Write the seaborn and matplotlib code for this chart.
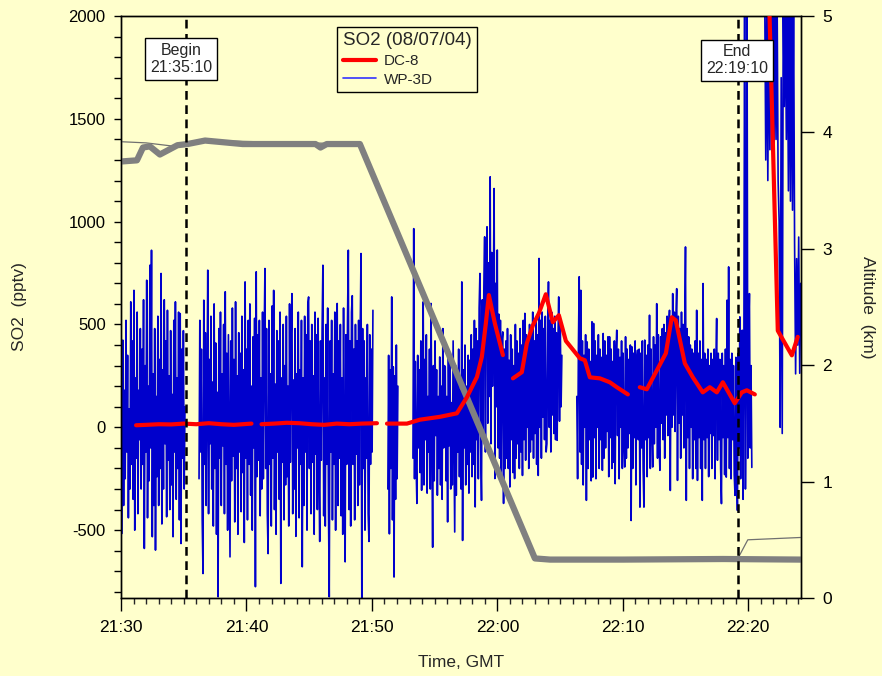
import numpy as np
import pandas as pd
import matplotlib
matplotlib.use("Agg")
import matplotlib.pyplot as plt
import seaborn as sns
from matplotlib.ticker import MultipleLocator, FuncFormatter
from matplotlib.lines import Line2D

# --- data (time in minutes after 21:30 GMT) ---

# WP-3D SO2 (pptv), segments with start/end time
wp_a_span = (0.08, 5.10)
wp_a = [-516, 424, -380, 180, -250, 520, -120, 350, -440, 90,
        -300, 610, -180, 420, -350, 666, -500, 240, -150, 560,
        -420, 180, -60, 480, -300, 380, -180, 620, -589, 300,
        -120, 715, -440, 200, -260, 788, -100, 861, -532, 260,
        -380, 480, -597, 150, -240, 540, -380, 330, -200, 748,
        -470, 280, -300, 620, -80, 420, -435, 569, -160, 250,
        -400, 470, -280, 160, -532, 520, -120, 610, -350, 240,
        -200, 560, -450, 553, -565, 380, -150, 470, -300, 100]

wp_b_span = (6.22, 20.08)
wp_b = [-250, 520, -120, 380, -450, -711, 618, -180, 460, -380,
        150, 764, -420, 330, -80, 540, -300, 220, -480, 600,
        -200, 410, -520, 170, -824, 480, -150, 560, -380, 260,
        -90, 500, -420, 659, -180, 360, -500, 450, -120, -630,
        420, -260, 580, -140, 330, -460, 610, -200, 250, -520,
        460, -120, 360, -410, 540, -220, 280, -560, 707, -150,
        380, -450, 520, -180, 600, -330, 200, -500, 440, -100,
        530, -775, 756, -240, 450, -160, 520, -430, 240, -300,
        560, -250, 420, 772, -200, 480, -420, -614, 520, -180,
        260, -480, 590, -150, 666, -400, 210, -520, 470, -120,
        420, -350, 560, -759, 240, -170, 500, -450, 300, -280,
        540, -240, 200, -480, 600, -170, 450, 650, -420, 230,
        -300, 480, -530, 260, -100, 560, -440, 280, -180, 520,
        -678, 240, -380, 540, -120, 450, -500, 600, 634, -200,
        420, -420, 500, -170, 250, -520, 560, -130, 450, -400,
        530, -200, -555, 420, -160, 480, 788, -430, 240, -480,
        500, -180, 580, -380, -824, 420, -120, 520, -450, 260,
        -180, 560, -500, 300, 602, -380, 420, -150, 500, -430,
        240, -520, 580, -220, -654, 450, -180, 520, 861, -400,
        420, -480, 560, 640, -180, 380, -450, 500, -130, 420,
        -380, 520, -280, 460, 845, -832, 480, -200, 420, -500,
        240, -150, 500, -420, -555, 450, -180, 380, -120, 569]

wp_c_span = (21.27, 22.07)
wp_c = [-300, 350, -518, 280, -200, 634, -450, 294, -728, 250,
        -350, 400, -250, 200]

wp_d_span = (23.27, 35.14)
wp_d = [-150, 966, -250, 320, -180, -370, 350, -100, 280, -220,
        420, -306, 120, 610, -280, 330, -60, 450, -320, 150,
        -120, 380, -300, 602, -80, -583, 300, -260, 420, -40,
        280, -330, 150, -200, 342, -280, 200, -350, 480, -100,
        300, 294, -260, 150, -460, 380, -90, 320, -300, 120,
        -280, 420, -60, -509, 300, -330, 250, -120, 380, -240,
        180, -300, 707, -550, 280, -100, 400, -280, 200, -180,
        350, -320, 326, -120, 450, -240, 380, -180, 520, -387,
        480, -60, 420, -250, 580, 748, -100, -355, 620, -30,
        680, 926, -120, 750, 975, 20, 800, 150, 1218, -80,
        850, 200, 600, 1161, -249, 700, 100, 862, -100, 550,
        -150, 520, -250, 420, 464, -370, 380, -200, 420, -150,
        480, -200, 326, -290, 450, -60, 380, -220, 300, -249,
        500, -150, 420, -80, 360, -200, 480, -120, 400, -234,
        520, -60, 554, -160, 450, 0, 420, -200, 500, -120,
        480, -60, 560, -150, 420, -30, 520, -180, 450, -234,
        821, 0, 520, -150, 560, 50, 480, -60, 540, -120,
        -80, 450, 707, 0, 520, -120, 560, 60, 480, -30,
        540, -60, 460, -63, 420, 634, 30, 500, 100, 350]

wp_e_span = (36.33, 50.28)
wp_e = [150, -250, 380, 732, -120, 666, -180, 420, -280, 350,
        0, 450, -355, 415, -200, 380, -60, 320, -260, 513,
        -242, 505, -50, 420, -250, 350, 0, 450, -200, 380,
        -60, 340, -209, 456, -150, 420, -100, 350, -20, 440,
        -240, 440, -50, 380, -200, 320, -170, 420, -274, 360,
        472, -40, 380, -250, 340, 0, 420, -200, 360, -80,
        -193, 440, -150, 380, -100, 330, -30, 400, -453, 391,
        -200, 360, -50, 420, -280, 330, 375, -60, 380, -388,
        360, -100, 420, -200, -388, 424, -60, 350, -240, 400,
        -50, 545, -200, 380, -20, -193, 440, -80, 400, 0,
        601, -150, 450, -80, -209, 440, 20, 480, -60, 500,
        -150, 460, 60, 540, -40, 480, 569, -307, 500, 0,
        650, 60, 560, -20, 520, 674, -258, 540, 20, 480,
        -150, 560, 60, 500, -100, 460, 877, -355, 480, -50,
        440, -200, 400, 0, 380, -250, 360, -60, 420, -200,
        569, -258, 360, -50, 420, -200, 330, -355, 699, -60,
        360, -200, 330, -50, 380, -240, 300, -30, 360, -200,
        330, -40, 380, -250, 300, 529, -160, 360, -60, 330,
        -200, -371, 360, -50, 300, -230, 380, -242, 618, -50,
        780, -200, 330, -250, 360, -60, 300, -230, -331, 340,
        -200, -404, 360, -100, 537, -250, 300, 472, -350, 250,
        2100, -300, 350, 2100, -150, 450, 650, -100, 300, -195]

wp_f_span = (51.31, 54.18)
wp_f = [2100, 1300, 2100, 1200, 2100, 1350, 2100, 1500, 2100, 1250,
        2100, 1400, 2100, 1200, 1000, 0, 1700, -30, 2100, 1560,
        2100, 1400, 2100, 1150, 2100, 1100, 2100, 1056, 2100, 900,
        260, 820, 400, 925, 263, 700]

# DC-8 SO2 (pptv), segments of (time, value)
dc8_t = [
    [1.2, 2.0, 3.0, 4.0, 5.0, 6.0, 7.0, 8.0, 9.0, 10.4],
    [11.2, 12.2, 13.2, 14.2, 15.2, 16.2, 17.2, 18.2, 19.2, 20.4],
    [21.2, 22.79, 23.82, 25.42, 26.77, 27.57, 28.37, 28.76, 29.08, 29.32, 29.80, 30.44],
    [31.24, 31.95, 32.35, 32.83, 33.31, 33.86, 34.42, 34.90, 35.46, 36.57, 36.97,
     37.37, 38.17, 38.96, 39.52, 40.40],
    [41.35, 41.91, 42.71, 43.43, 43.90, 44.22, 44.94, 45.58, 46.37, 46.93, 47.49,
     47.97, 48.92, 49.48, 49.88, 50.52],
    [51.63, 52.35, 53.47, 53.94],
]
dc8_v = [
    [10, 12, 15, 14, 18, 15, 20, 15, 12, 18],
    [15, 18, 22, 20, 15, 12, 18, 15, 18, 20],
    [18, 18, 37, 51, 68, 146, 245, 342, 505, 643, 505, 351],
    [238, 268, 409, 496, 555, 647, 511, 545, 420, 336, 326, 243, 238, 219, 195, 160],
    [195, 185, 277, 360, 535, 520, 311, 243, 170, 195, 170, 219, 117, 170, 180, 160],
    [2150, 470, 350, 440],
]

# altitude (km)
alt_t = [0.0, 1.27, 1.75, 2.3, 3.1, 4.5, 5.3, 6.7, 9.7, 15.5, 15.9, 16.4, 19.04,
         32.99, 34.2, 40.0, 48.0, 54.18]
alt_km = [3.75, 3.76, 3.87, 3.88, 3.81, 3.89, 3.90, 3.93, 3.90, 3.90, 3.87, 3.90, 3.90,
          0.34, 0.33, 0.33, 0.335, 0.33]
alt2_t = [0.0, 2.0, 4.3, 5.3, 6.7, 19.04, 32.99, 49.17, 49.96, 54.18]
alt2_km = [3.92, 3.91, 3.88, 3.90, 3.93, 3.90, 0.34, 0.34, 0.50, 0.52]

begin_t = 5 + 10 / 60
end_t = 49 + 10 / 60

# --- tables for seaborn ---
wp_parts = []
for i, (span, vals) in enumerate([(wp_a_span, wp_a), (wp_b_span, wp_b), (wp_c_span, wp_c),
                                  (wp_d_span, wp_d), (wp_e_span, wp_e), (wp_f_span, wp_f)]):
    wp_parts.append(pd.DataFrame({"t": np.linspace(span[0], span[1], len(vals)),
                                  "so2": vals, "seg": i}))
df_wp = pd.concat(wp_parts, ignore_index=True)

df_dc8 = pd.concat([pd.DataFrame({"t": t, "so2": v, "seg": i})
                    for i, (t, v) in enumerate(zip(dc8_t, dc8_v))], ignore_index=True)

# --- plot ---
bg = "#FFFFCC"
sns.set_style("ticks")
plt.rcParams["font.family"] = ["Liberation Sans", "DejaVu Sans"]
plt.rcParams["axes.unicode_minus"] = False

fig = plt.figure(figsize=(8.82, 6.76), dpi=100, facecolor=bg)
ax = fig.add_axes([121 / 882, 78 / 676, 680 / 882, 582 / 676])
ax.set_facecolor(bg)
ax2 = ax.twinx()   # altitude
ax3 = ax.twinx()   # DC-8 on top of the altitude trace
ax2.patch.set_visible(False)
ax3.patch.set_visible(False)

# WP-3D (bottom layer)
sns.lineplot(data=df_wp, x="t", y="so2", units="seg", estimator=None, sort=False,
             color="#0000CC", lw=1.2, ax=ax)

# altitude on the right axis
sns.lineplot(x=alt2_t, y=alt2_km, ax=ax2, color="#707070", lw=0.9, sort=False)
sns.lineplot(x=alt_t, y=alt_km, ax=ax2, color="#808080", lw=4.5, sort=False)

# DC-8 (top layer, same scale as left axis)
sns.lineplot(data=df_dc8, x="t", y="so2", units="seg", estimator=None, sort=False,
             color="#FF0000", lw=3, ax=ax3)

for tt in (begin_t, end_t):
    ax3.axvline(tt, color="black", lw=1.8, ls=(0, (3.5, 2.2)))

ax.set_xlim(0, 54.2)
ax.set_ylim(-830, 2000)
ax3.set_ylim(-830, 2000)
ax2.set_ylim(0, 5)
ax3.axis("off")

ax.xaxis.set_major_locator(MultipleLocator(10))
ax.xaxis.set_minor_locator(MultipleLocator(1))
ax.xaxis.set_major_formatter(FuncFormatter(
    lambda t, p: f"{21 + (30 + int(round(t))) // 60}:{(30 + int(round(t))) % 60:02d}"))
ax.yaxis.set_major_locator(MultipleLocator(500))
ax.yaxis.set_minor_locator(MultipleLocator(100))
ax2.yaxis.set_major_locator(MultipleLocator(1))

ax.tick_params(axis="x", which="major", length=9.5, width=1, labelsize=12.5, pad=6,
               colors="black")
ax.tick_params(axis="x", which="minor", length=4.5, width=1)
ax.tick_params(axis="y", which="both", length=5, width=1, labelsize=12, pad=6,
               colors="black")
ax2.tick_params(axis="y", which="major", length=9.5, width=1, labelsize=12.5, pad=6,
                colors="black")

for a in (ax, ax2):
    for s in a.spines.values():
        s.set_visible(True)
        s.set_color("black")
        s.set_linewidth(1)

ax.set_xlabel("Time, GMT", fontsize=12.5, labelpad=15)
ax.set_ylabel("SO2  (pptv)", fontsize=12.5, labelpad=30)
ax2.set_ylabel("Altitude  (km)", fontsize=12.5, rotation=270, labelpad=31)

box = dict(boxstyle="square,pad=0.3", facecolor="white", edgecolor="black", lw=1)
ax3.text(4.78, 1790, "Begin\n21:35:10", ha="center", va="center", fontsize=11.5,
         bbox=box, zorder=5, linespacing=1.15)
ax3.text(49.1, 1785, "End\n22:19:10", ha="center", va="center", fontsize=11.5,
         bbox=box, zorder=5, linespacing=1.15)

handles = [Line2D([], [], color="#FF0000", lw=3), Line2D([], [], color="#3333FF", lw=1.2)]
leg = ax3.legend(handles, ["DC-8", "WP-3D"], title="SO2 (08/07/04)", loc="upper left",
                 bbox_to_anchor=(0.318, 0.981), fontsize=11, title_fontsize=13.5,
                 frameon=True, fancybox=False, framealpha=1, facecolor=bg,
                 edgecolor="black", handlelength=2.2, handletextpad=0.5,
                 borderpad=0.35, labelspacing=0.3, borderaxespad=0)
leg.get_frame().set_linewidth(1)
leg._legend_box.align = "left"

fig.savefig("out.png", dpi=100, facecolor=bg)
